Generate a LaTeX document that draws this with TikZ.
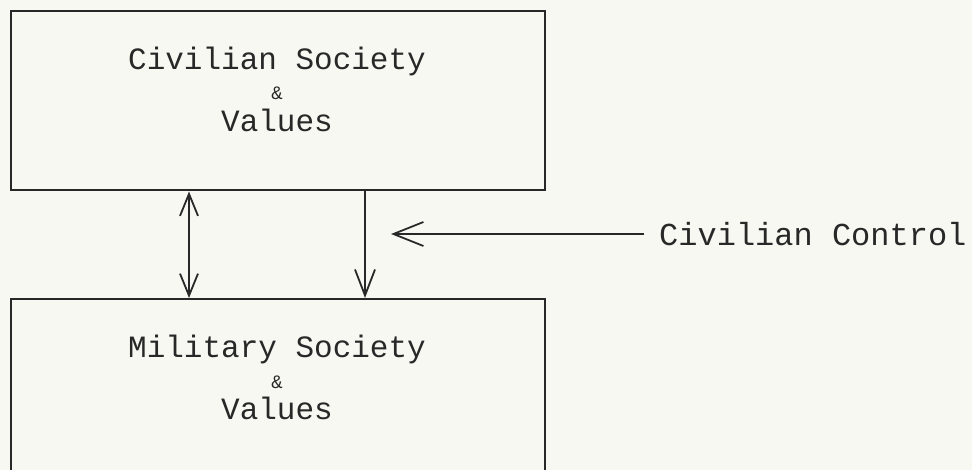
\documentclass[tikz,border=0pt]{standalone}
\usepackage{fontspec}
\setmonofont{Liberation Mono}
\usetikzlibrary{arrows.meta}
\definecolor{paper}{RGB}{248,248,242}
\definecolor{ink}{RGB}{40,40,40}
\tikzset{
  boxnode/.style={draw=ink, line width=2pt, rectangle, inner sep=0pt},
  lbl/.style={inner sep=0pt, anchor=base, text=ink, font=\ttfamily\fontsize{31}{31}\selectfont},
  amp/.style={inner sep=0pt, anchor=base, text=ink, font=\ttfamily\fontsize{19}{19}\selectfont},
  conn/.style={draw=ink, line width=1.8pt}
}
\begin{document}
\begin{tikzpicture}[x=1pt, y=-1pt]
\fill[paper] (0,0) rectangle (972,470);
\useasboundingbox (0,0) rectangle (972,470);
\clip (0,0) rectangle (972,470);
% boxes
\node[boxnode, minimum width=534pt, minimum height=179pt] (top) at (278,101) {};
\node[boxnode, minimum width=534pt, minimum height=240pt] (bot) at (278,419) {};
% texts
\node[lbl] (t1) at (277,70) {Civilian Society};
\node[amp] (t2) at (277,100) {\&};
\node[lbl] (t3) at (277,132) {Values};
\node[lbl] (b1) at (277,357) {Military Society};
\node[amp] (b2) at (277,388) {\&};
\node[lbl] (b3) at (277,419) {Values};
\node[lbl, anchor=west, font=\ttfamily\fontsize{32}{32}\selectfont] (ctl) at (659,234) {Civilian Control};
% connector x positions
\coordinate (lx) at (189,0);
\coordinate (rx) at (365,0);
\coordinate (tip) at (391,0);
\draw[conn, {Straight Barb[length=22pt, width=18pt]}-{Straight Barb[length=22pt, width=18pt]}] (top.south -| lx) -- (bot.north -| lx);
\draw[conn, -{Straight Barb[length=26pt, width=20pt]}] (top.south -| rx) -- (bot.north -| rx);
\draw[conn, -{Straight Barb[length=30pt, width=24pt]}] ([xshift=-15pt]ctl.west) -- (ctl.west -| tip);
\end{tikzpicture}
\end{document}
